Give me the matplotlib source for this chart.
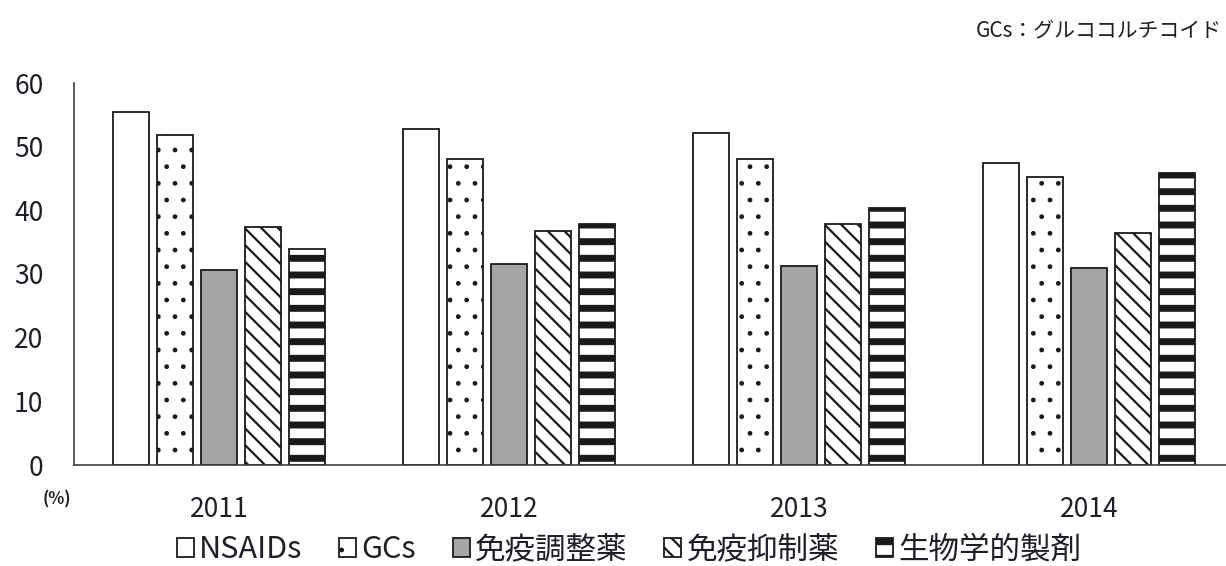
import matplotlib
matplotlib.use('Agg')
import numpy as np
import matplotlib.pyplot as plt

plt.rcParams['font.family'] = ['Noto Sans CJK JP', 'DejaVu Sans']

# Share of patients receiving each drug class (%)
years      = ['2011', '2012', '2013', '2014']
nsaids     = [55.4, 52.7, 52.1, 47.5]
gcs        = [51.9, 48.1, 48.1, 45.2]
immunomod  = [30.6, 31.6, 31.3, 31.0]
immunosup  = [37.4, 36.7, 37.9, 36.4]
biologics  = [34.0, 37.9, 40.3, 45.8]
labels     = ['NSAIDs', 'GCs', '免疫調整薬', '免疫抑制薬', '生物学的製剤']

text_color = '#1e1e28'
x = np.arange(len(years))
step = 0.152
width = 0.122

fig = plt.figure(figsize=(12.26, 5.66), dpi=100)
ax = fig.add_axes([74 / 1226, 101 / 566, 1160 / 1226, 382 / 566])


def draw(offset, values, face, hatch=None, hatch_lw=1.0, label=None):
    with plt.rc_context({'hatch.linewidth': hatch_lw}):
        bars = ax.bar(x + offset * step, values, width, color=face,
                      edgecolor='#1a1a1a', linewidth=1.3, hatch=hatch,
                      label=label, zorder=2)
    for b in bars:
        if hasattr(b, 'set_hatch_linewidth'):
            b.set_hatch_linewidth(hatch_lw)
    return bars


# hatch line widths per series, reused for the legend keys
hatch_widths = [1.0, 1.0, 1.0, 1.6, 5.0]

draw(-2, nsaids, 'white', label=labels[0])
draw(-1, gcs, 'white', hatch='.', hatch_lw=hatch_widths[1], label=labels[1])
draw(0, immunomod, '#a6a6a6', label=labels[2])
draw(1, immunosup, 'white', hatch='\\\\', hatch_lw=hatch_widths[3], label=labels[3])
draw(2, biologics, 'white', hatch='-', hatch_lw=hatch_widths[4], label=labels[4])

ax.set_xlim(-0.5, 3.5)
ax.set_ylim(0, 60)
ax.set_yticks(np.arange(0, 61, 10))
ax.set_xticks(x)
ax.set_xticklabels(years)
ax.tick_params(axis='y', length=0, pad=22, labelsize=19, labelcolor=text_color)
ax.tick_params(axis='x', length=0, pad=22, labelsize=19, labelcolor=text_color)
for side in ['top', 'right']:
    ax.spines[side].set_visible(False)
for side in ['left', 'bottom']:
    ax.spines[side].set_color('#404040')
    ax.spines[side].set_linewidth(1.2)

fig.text(57 / 1226, 1 - 499 / 566, '(%)', ha='center', va='center',
         fontsize=12, fontweight='bold', color=text_color)
fig.text(1222 / 1226, 1 - 30 / 566, 'GCs：グルココルチコイド', ha='right',
         va='center', fontsize=15, color=text_color)

leg = fig.legend(loc='center', bbox_to_anchor=(629 / 1226, 1 - 550 / 566),
                 ncol=5, frameon=False, fontsize=22, handlelength=0.55,
                 handleheight=0.55, handletextpad=0.18, columnspacing=1.2,
                 labelcolor=text_color)
for handle, lw in zip(leg.legend_handles, hatch_widths):
    if hasattr(handle, 'set_hatch_linewidth'):
        handle.set_hatch_linewidth(lw)

fig.savefig('out.png', dpi=100)
